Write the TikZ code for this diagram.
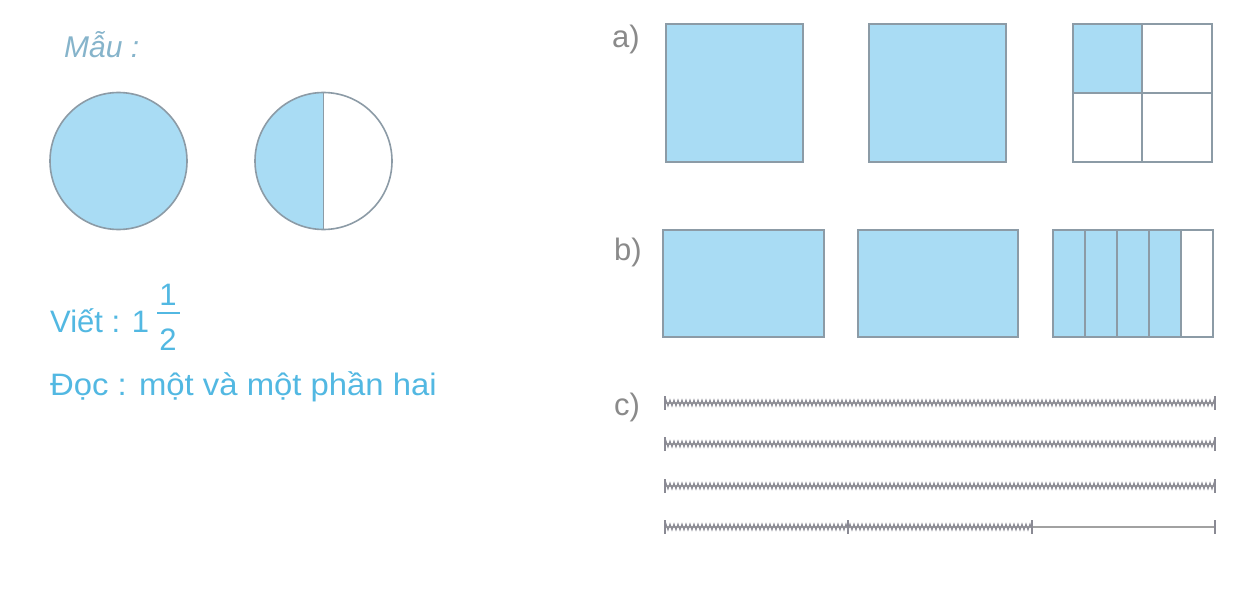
\documentclass[tikz,border=0pt]{standalone}
\usepackage{fontspec}
\setmainfont{Liberation Sans}
\usetikzlibrary{decorations.pathmorphing}
\definecolor{fillc}{HTML}{A9DCF4}
\definecolor{edgec}{HTML}{8C9BA6}
\definecolor{txtblue}{HTML}{52B8E2}
\definecolor{mauc}{HTML}{86B4CB}
\definecolor{lblc}{HTML}{8A8A8A}
\definecolor{hatchc}{HTML}{8A8A94}
\tikzset{
  x=1pt, y=-1pt,
  shade/.style={fill=fillc, draw=edgec, line width=1.6pt},
  blank/.style={fill=white, draw=edgec, line width=1.6pt},
  divline/.style={draw=edgec, line width=1.6pt},
  bluetxt/.style={text=txtblue, font=\fontsize{31}{36}\selectfont, inner sep=0pt},
  lbl/.style={text=lblc, font=\fontsize{31}{36}\selectfont, inner sep=0pt, anchor=north west},
  baseline/.style={draw=lblc!80, line width=1.2pt},
  hatch/.style={draw=hatchc, line width=1pt, decorate,
    decoration={zigzag, segment length=4pt, amplitude=3pt}},
  tick/.style={draw=hatchc, line width=1.6pt}
}
\begin{document}
\begin{tikzpicture}
\useasboundingbox (0,0) rectangle (1234,591);
\fill[white] (0,0) rectangle (1234,591);
% left side
\node[text=mauc, font=\fontsize{30}{34}\selectfont\itshape, inner sep=0pt, anchor=base west] (mau) at (64,58) {Mẫu :};
\fill[shade] (118.5,161) circle (68.5);
\begin{scope}
  \clip (250,80) rectangle (323.5,240);
  \fill[fillc] (323.5,161) circle (68.5);
\end{scope}
\draw[divline] (323.5,92.5) -- (323.5,229.5);
\draw[divline] (323.5,161) circle (68.5);
\node[bluetxt, anchor=base west] (viet) at (50,332) {Viết : 1};
\node[bluetxt, anchor=base] (num) at (168,305) {1};
\draw[draw=txtblue, line width=1.3pt] (157,313) -- (180,313);
\node[bluetxt, anchor=base] (den) at (168,350) {2};
\node[bluetxt, anchor=base west] (doc) at (50,395) {\scalebox{1.06}[1]{Đọc : một và một phần hai}};
% a)
\node[lbl] (la) at (612,25) {a)};
\draw[shade] (666,24) rectangle (803,162);
\draw[shade] (869,24) rectangle (1006,162);
\draw[blank] (1073,24) rectangle (1212,162);
\fill[fillc] (1073,24) rectangle (1142,93);
\draw[divline] (1073,24) rectangle (1212,162);
\draw[divline] (1142,24) -- (1142,162);
\draw[divline] (1073,93) -- (1212,93);
% b)
\node[lbl] (lb) at (614,238) {b)};
\draw[shade] (663,230) rectangle (824,337);
\draw[shade] (858,230) rectangle (1018,337);
\draw[blank] (1053,230) rectangle (1213,337);
\fill[fillc] (1053,230) rectangle (1181,337);
\draw[divline] (1053,230) rectangle (1213,337);
\foreach \xx in {1085,1117,1149,1181} \draw[divline] (\xx,230) -- (\xx,337);
% c)
\node[lbl] (lc) at (614,393) {c)};
\foreach \yy in {403,444,486} {
  \draw[baseline] (665,\yy) -- (1215,\yy);
  \draw[hatch] (665,\yy) -- (1215,\yy);
  \draw[tick] (665,\yy-7) -- (665,\yy+7);
  \draw[tick] (1215,\yy-7) -- (1215,\yy+7);
}
\draw[baseline] (665,527) -- (1215,527);
\draw[hatch] (665,527) -- (1032,527);
\foreach \xx in {665,848,1032,1215} \draw[tick] (\xx,520) -- (\xx,534);
\end{tikzpicture}
\end{document}
